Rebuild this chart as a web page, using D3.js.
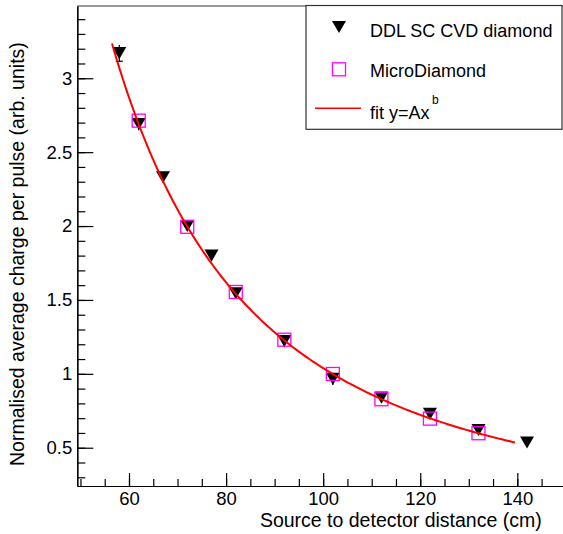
<!DOCTYPE html>
<html>
<head>
<meta charset="utf-8">
<script src="https://cdn.jsdelivr.net/npm/d3@7"></script>
<style>
  body { margin: 0; background: #fff; }
  svg { display: block; font-family: "Liberation Sans", Arial, sans-serif; }
  .axis path, .axis line { stroke: #000; stroke-width: 1.2; }
  .axis text { font-size: 18.5px; fill: #000; }
</style>
</head>
<body>
<svg id="chart" width="563" height="534"></svg>
<script>
// values
const ddlDistance = [58, 62, 67, 72, 77, 82, 92, 102, 112, 122, 132, 142];
const ddlCharge = [3.17, 2.69, 2.33, 2.0, 1.8, 1.545, 1.222, 0.966, 0.839, 0.729, 0.62, 0.535];
const ddlError = [0.055, 0.042, 0.025, 0.025, 0.025, 0.025, 0.042, 0.042, 0.025, 0.025, 0.025, 0.025];
const microDistance = [62, 72, 82, 92, 102, 112, 122, 132];
const microCharge = [2.713, 1.995, 1.554, 1.231, 0.999, 0.828, 0.697, 0.598];

// fit y = A * x^b and the range it was drawn over
const fitA = 9918;
const fitB = -1.99;
const fitRange = [56.5, 139.5];

const xTicks = [60, 80, 100, 120, 140];
const yTicks = [0.5, 1, 1.5, 2, 2.5, 3];
const xMinorTicks = d3.range(50, 150, 5);
const yMinorTicks = d3.range(0.3, 3.45, 0.1).map((v) => +v.toFixed(1));

const legendLabels = ["DDL SC CVD diamond", "MicroDiamond", "fit y=Ax"];
const xTitle = "Source to detector distance (cm)";
const yTitle = "Normalised average charge per pulse (arb. units)";

const svg = d3.select("#chart");
const frameLeft = 77.3, frameBottom = 486, frameTop = 6;

const x = d3.scaleLinear().domain([49.35, 150.6]).range([frameLeft, frameLeft + 101.25 * 4.854]);
const y = d3.scaleLinear().domain([0.241, 3.489]).range([frameBottom, frameTop]);

// ROOT style down triangle, centred on its box
const triangleDown = {
    draw(context, size) {
        const w = size, h = size * 0.86;
        context.moveTo(-w / 2, -h / 2);
        context.lineTo(w / 2, -h / 2);
        context.lineTo(0, h / 2);
        context.closePath();
    }
};
const triangle = d3.symbol().type(triangleDown).size(14);

// frame top line
svg.append("line")
    .attr("x1", frameLeft).attr("x2", 563)
    .attr("y1", frameTop).attr("y2", frameTop)
    .attr("stroke", "#777").attr("stroke-width", 1.5);

// axes, ticks pointing into the plot
svg.append("g").attr("class", "axis")
    .attr("transform", "translate(0," + frameBottom + ")")
    .call(d3.axisBottom(x).tickValues(xMinorTicks).tickSizeInner(-7).tickSizeOuter(0).tickFormat(""));
svg.append("g").attr("class", "axis")
    .attr("transform", "translate(0," + frameBottom + ")")
    .call(d3.axisBottom(x).tickValues(xTicks).tickSizeInner(-13).tickSizeOuter(0).tickPadding(6));

svg.append("g").attr("class", "axis")
    .attr("transform", "translate(" + frameLeft + ",0)")
    .call(d3.axisLeft(y).tickValues(yMinorTicks).tickSizeInner(-8).tickSizeOuter(0).tickFormat(""));
svg.append("g").attr("class", "axis")
    .attr("transform", "translate(" + frameLeft + ",0)")
    .call(d3.axisLeft(y).tickValues(yTicks).tickSizeInner(-16).tickSizeOuter(0).tickPadding(5)
        .tickFormat((d) => d3.format("~g")(d)));

svg.selectAll(".axis text").attr("font-family", "Liberation Sans, Arial, sans-serif");

// axis titles
svg.append("text")
    .attr("x", 541.7).attr("y", 527)
    .attr("text-anchor", "end")
    .attr("font-size", "19.5px")
    .text(xTitle);
svg.append("text")
    .attr("transform", "translate(24,466) rotate(-90)")
    .attr("font-size", "19.5px")
    .text(yTitle);

// DDL points with error bars
const ddl = ddlDistance.map((d, i) => ({ x: d, y: ddlCharge[i], e: ddlError[i] }));
const micro = microDistance.map((d, i) => ({ x: d, y: microCharge[i] }));

const errs = svg.append("g").attr("stroke", "#000").attr("stroke-width", 1.2);
errs.selectAll("line.bar").data(ddl).enter().append("line")
    .attr("x1", (d) => x(d.x)).attr("x2", (d) => x(d.x))
    .attr("y1", (d) => y(d.y + d.e)).attr("y2", (d) => y(d.y - d.e));
errs.selectAll("line.cap").data(ddl).enter().append("line")
    .attr("x1", (d) => x(d.x) - 3.5).attr("x2", (d) => x(d.x) + 3.5)
    .attr("y1", (d) => y(d.y - d.e)).attr("y2", (d) => y(d.y - d.e))
    .attr("stroke-width", (d) => d.e > 0.05 ? 1.2 : 0);

svg.append("g").selectAll("path").data(ddl).enter().append("path")
    .attr("transform", (d) => "translate(" + x(d.x) + "," + y(d.y) + ")")
    .attr("d", triangle)
    .attr("fill", "#000");

// MicroDiamond open squares
svg.append("g").selectAll("rect").data(micro).enter().append("rect")
    .attr("x", (d) => x(d.x) - 6.5).attr("y", (d) => y(d.y) - 6.5)
    .attr("width", 13).attr("height", 13)
    .attr("fill", "none").attr("stroke", "#ff00ff").attr("stroke-width", 1.3);

// fit curve
const fitX = d3.range(fitRange[0], fitRange[1] + 0.01, 0.5);
const fitLine = d3.line().x((d) => x(d)).y((d) => y(fitA * Math.pow(d, fitB)));
svg.append("path")
    .datum(fitX)
    .attr("d", fitLine)
    .attr("fill", "none")
    .attr("stroke", "#ff0000")
    .attr("stroke-width", 2);

// legend
const legend = svg.append("g");
legend.append("rect")
    .attr("x", 306).attr("y", 5.5).attr("width", 256).attr("height", 123.8)
    .attr("fill", "#fff").attr("stroke", "#333").attr("stroke-width", 1.2);
legend.append("path")
    .attr("transform", "translate(339,27)")
    .attr("d", triangle);
legend.append("rect")
    .attr("x", 332.5).attr("y", 62.8).attr("width", 13).attr("height", 13)
    .attr("fill", "none").attr("stroke", "#ff00ff").attr("stroke-width", 1.3);
legend.append("line")
    .attr("x1", 315).attr("x2", 361).attr("y1", 108.3).attr("y2", 108.3)
    .attr("stroke", "#ff0000").attr("stroke-width", 1.5);

const legendY = [36.5, 76.5, 118.5];
legend.selectAll("text.lab").data(legendLabels).enter().append("text")
    .attr("x", 370).attr("y", (d, i) => legendY[i])
    .attr("font-size", "18px")
    .text((d) => d);
legend.append("text")
    .attr("x", 432).attr("y", 104)
    .attr("font-size", "12px")
    .text("b");
</script>
</body>
</html>
